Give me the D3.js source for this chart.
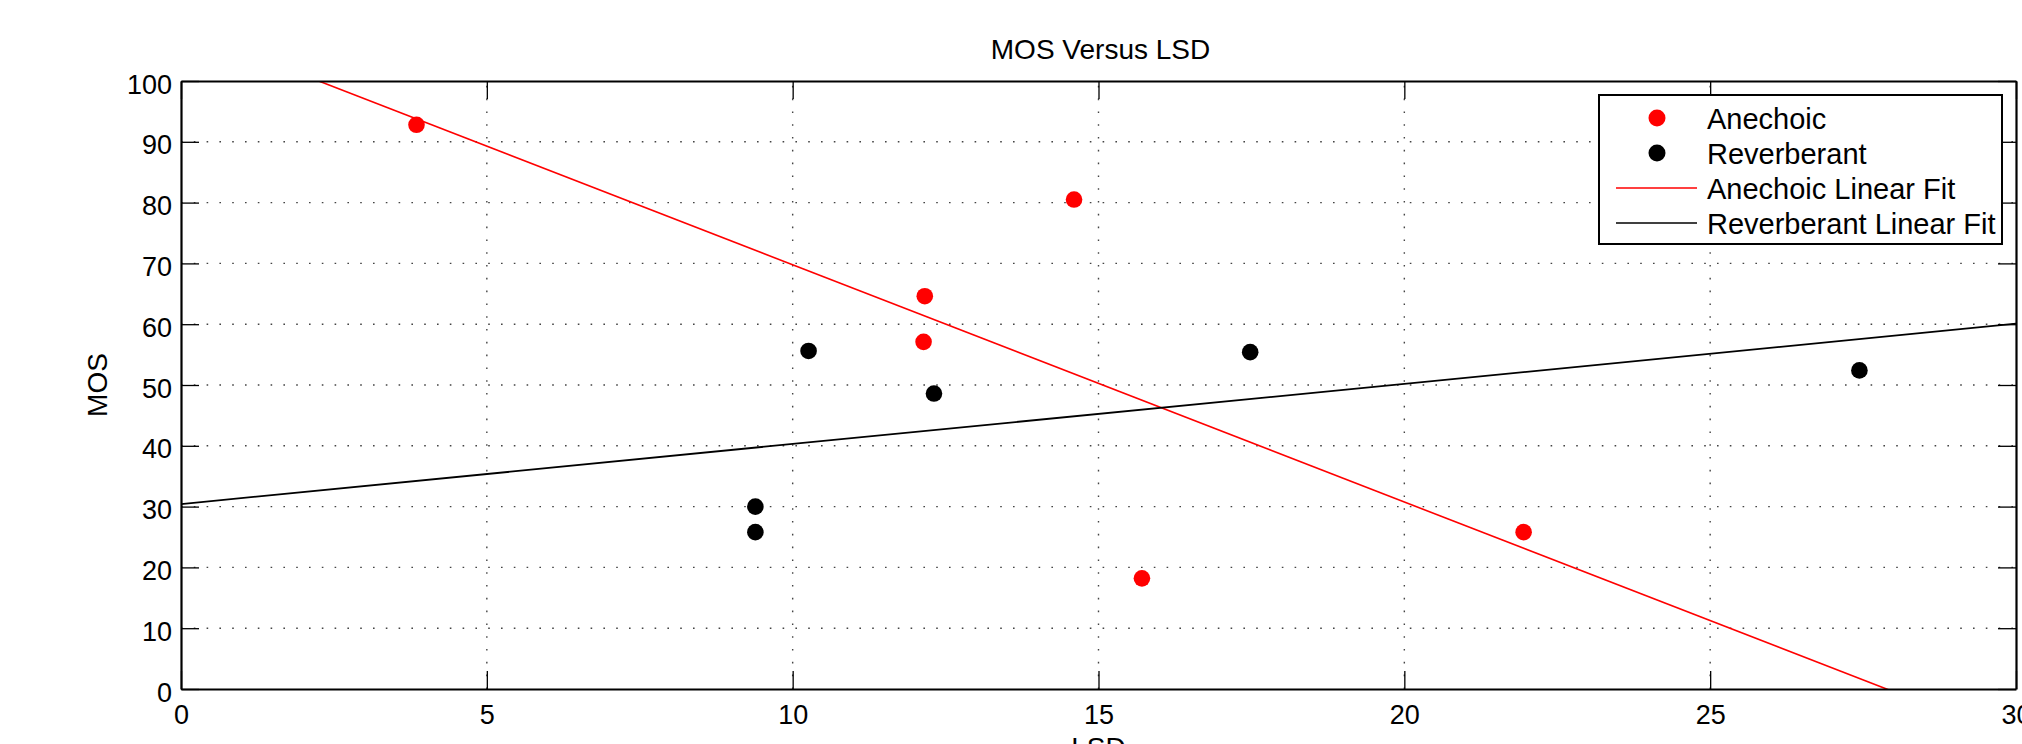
<!DOCTYPE html>
<html>
<head>
<meta charset="utf-8">
<script src="https://cdn.jsdelivr.net/npm/d3@7/dist/d3.min.js"></script>
<style>
  html, body { margin: 0; padding: 0; background: #fff; }
  svg { display: block; font-family: "Liberation Sans", Arial, Helvetica, sans-serif; }
</style>
</head>
<body>
<div id="chart"></div>
<script>
// data: LSD (x) vs MOS (y)
const anechoicLSD = [3.85, 14.6, 12.16, 12.14, 15.71, 21.95];
const anechoicMOS = [92.8, 80.5, 64.6, 57.1, 18.2, 25.8];
const reverbLSD = [9.39, 9.39, 10.26, 12.31, 17.48, 27.44];
const reverbMOS = [30.0, 25.8, 55.6, 48.6, 55.4, 52.4];

const xTicks = [0, 5, 10, 15, 20, 25, 30];
const yTicks = [0, 10, 20, 30, 40, 50, 60, 70, 80, 90, 100];

const legendLabels = ['Anechoic', 'Reverberant', 'Anechoic Linear Fit', 'Reverberant Linear Fit'];

const width = 2022;
const height = 744;
const margin = { left: 181, right: 6, top: 81, bottom: 55 };
const plotW = width - margin.left - margin.right;
const plotH = height - margin.top - margin.bottom;

const svg = d3.select('#chart')
  .append('svg')
  .attr('width', width)
  .attr('height', height);

const x = d3.scaleLinear().domain([0, 30]).range([margin.left, margin.left + plotW]);
const y = d3.scaleLinear().domain([0, 100]).range([margin.top + plotH, margin.top]);

// least squares fit, same as the original figure
function linFit(xs, ys) {
  const mx = d3.mean(xs), my = d3.mean(ys);
  let sxy = 0, sxx = 0;
  xs.forEach((v, i) => { sxy += (v - mx) * (ys[i] - my); sxx += (v - mx) * (v - mx); });
  const slope = sxy / sxx;
  return { slope, intercept: my - slope * mx };
}

svg.append('defs').append('clipPath')
  .attr('id', 'plot-clip')
  .append('rect')
  .attr('x', margin.left)
  .attr('y', margin.top)
  .attr('width', plotW)
  .attr('height', plotH);

// dotted grid
const grid = svg.append('g').attr('class', 'grid')
  .attr('stroke', '#444')
  .attr('stroke-width', 1.4)
  .attr('stroke-dasharray', '1.6,11.2');

grid.selectAll('line.gx')
  .data(xTicks.slice(1, -1))
  .enter()
  .append('line')
  .attr('class', 'gx')
  .attr('x1', d => x(d)).attr('x2', d => x(d))
  .attr('y1', y(0)).attr('y2', y(100));

grid.selectAll('line.gy')
  .data(yTicks.slice(1, -1))
  .enter()
  .append('line')
  .attr('class', 'gy')
  .attr('x1', x(0)).attr('x2', x(30))
  .attr('y1', d => y(d)).attr('y2', d => y(d));

// fit lines
const fits = [
  { color: '#ff0000', fit: linFit(anechoicLSD, anechoicMOS), w: 1.6 },
  { color: '#000000', fit: linFit(reverbLSD, reverbMOS), w: 1.8 }
];

const line = d3.line().x(d => x(d[0])).y(d => y(d[1]));

svg.append('g')
  .attr('clip-path', 'url(#plot-clip)')
  .selectAll('path')
  .data(fits)
  .enter()
  .append('path')
  .attr('fill', 'none')
  .attr('stroke', d => d.color)
  .attr('stroke-width', d => d.w)
  .attr('d', d => line([0, 30].map(v => [v, d.fit.intercept + d.fit.slope * v])));

// scatter points
const pts = svg.append('g');
pts.selectAll('circle.an')
  .data(anechoicLSD.map((v, i) => [v, anechoicMOS[i]]))
  .enter()
  .append('circle')
  .attr('class', 'an')
  .attr('cx', d => x(d[0]))
  .attr('cy', d => y(d[1]))
  .attr('r', 8.3)
  .attr('fill', '#ff0000');

pts.selectAll('circle.rv')
  .data(reverbLSD.map((v, i) => [v, reverbMOS[i]]))
  .enter()
  .append('circle')
  .attr('class', 'rv')
  .attr('cx', d => x(d[0]))
  .attr('cy', d => y(d[1]))
  .attr('r', 8.3)
  .attr('fill', '#000');

// axes box with inward ticks on all sides
const tickLen = 18;
const fontTick = 27;

// with negative inner ticks d3 uses tickPadding alone as the gap
const bottomAxis = d3.axisBottom(x).tickValues(xTicks).tickSizeInner(-tickLen).tickSizeOuter(0).tickPadding(16);
const topAxis = d3.axisTop(x).tickValues(xTicks).tickSizeInner(-tickLen).tickSizeOuter(0).tickFormat('');
const leftAxis = d3.axisLeft(y).tickValues(yTicks).tickSizeInner(-tickLen).tickSizeOuter(0).tickPadding(9);
const rightAxis = d3.axisRight(y).tickValues(yTicks).tickSizeInner(-tickLen).tickSizeOuter(0).tickFormat('');

function styleAxis(g) {
  g.select('.domain').attr('stroke', '#000').attr('stroke-width', 2.2);
  g.selectAll('.tick line').attr('stroke', '#000').attr('stroke-width', 1.3);
  g.selectAll('.tick text')
    .attr('fill', '#000')
    .style('font-size', fontTick + 'px')
    .style('font-family', '"Liberation Sans", Arial, sans-serif');
}

svg.append('g').attr('transform', `translate(0,${y(0)})`).call(bottomAxis).call(styleAxis)
  .selectAll('.tick text').attr('dy', '0.71em');
svg.append('g').attr('transform', `translate(0,${y(100)})`).call(topAxis).call(styleAxis);
svg.append('g').attr('transform', `translate(${x(0)},0)`).call(leftAxis).call(styleAxis)
  .selectAll('.tick text').attr('dy', '0.45em');
svg.append('g').attr('transform', `translate(${x(30)},0)`).call(rightAxis).call(styleAxis);

// titles
svg.append('text')
  .attr('x', (x(0) + x(30)) / 2 + 2)
  .attr('y', 59)
  .attr('text-anchor', 'middle')
  .style('font-size', '28px')
  .text('MOS Versus LSD');

svg.append('text')
  .attr('x', (x(0) + x(30)) / 2)
  .attr('y', 757)
  .attr('text-anchor', 'middle')
  .style('font-size', '28px')
  .text('LSD');

svg.append('text')
  .attr('transform', `translate(107,${(y(0) + y(100)) / 2}) rotate(-90)`)
  .attr('text-anchor', 'middle')
  .style('font-size', '28px')
  .text('MOS');

// legend
const legend = svg.append('g').attr('transform', 'translate(1599,95)');
legend.append('rect')
  .attr('width', 403)
  .attr('height', 149)
  .attr('fill', '#fff')
  .attr('stroke', '#000')
  .attr('stroke-width', 2);

const legendColor = ['#ff0000', '#000', '#ff0000', '#000'];

legendLabels.forEach((label, i) => {
  const rowY = 24 + i * 35;
  if (i < 2) {
    legend.append('circle')
      .attr('cx', 58)
      .attr('cy', rowY - 1)
      .attr('r', 8.5)
      .attr('fill', legendColor[i]);
  } else {
    legend.append('line')
      .attr('x1', 17).attr('x2', 98)
      .attr('y1', rowY - 1).attr('y2', rowY - 1)
      .attr('stroke', legendColor[i])
      .attr('stroke-width', 1.6);
  }
  legend.append('text')
    .attr('x', 108)
    .attr('y', rowY + 10)
    .style('font-size', '29px')
    .text(label);
});
</script>
</body>
</html>
